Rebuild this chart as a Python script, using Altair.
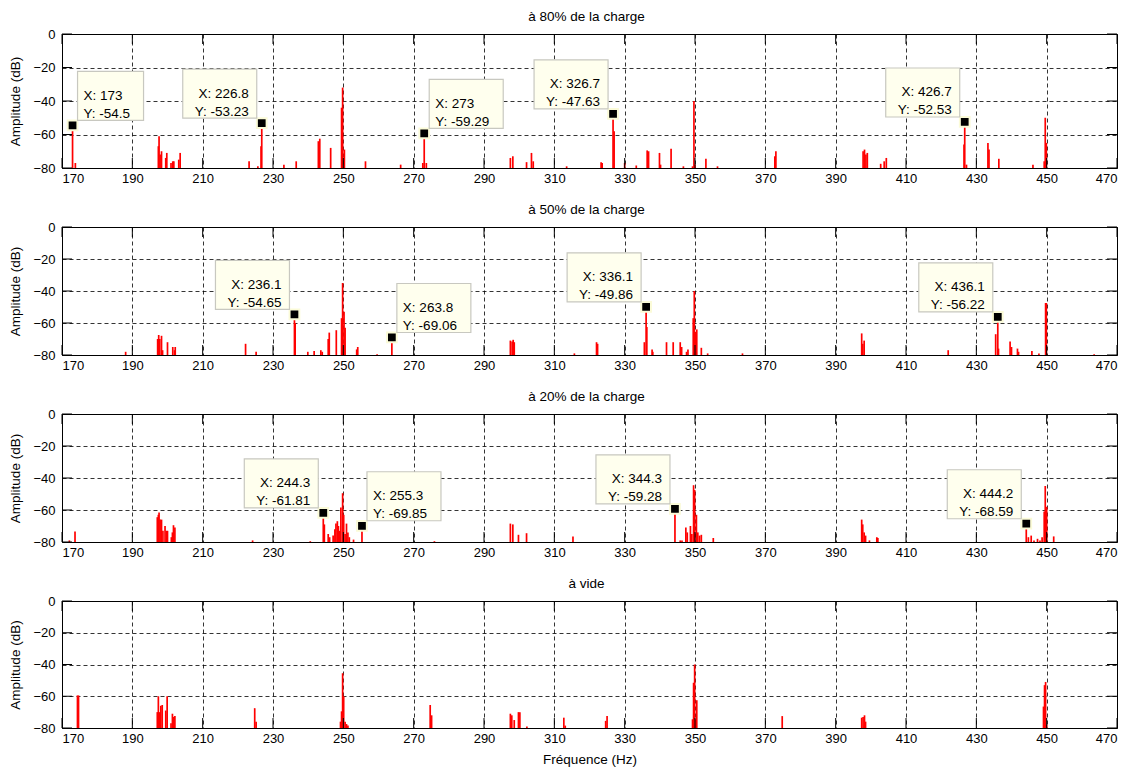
import altair as alt
import pandas as pd

FONT = "Liberation Sans"

# ---------------- data ----------------
panel_titles = ["à 80% de la charge", "à 50% de la charge", "à 20% de la charge", "à vide"]

freq80 = [173, 173.8, 197.4, 197.6, 197.9, 198.3, 199.5, 199.8, 201.0, 201.5, 201.8, 203.2, 203.6,
          223.2, 225.7, 226.6, 226.8, 233.1, 236.6, 242.9, 243.3, 246.4, 249.5, 249.8, 250.3, 256.3,
          266.3, 272.6, 273.0, 273.6, 297.5, 298.2, 302.1, 303.5, 304.0, 313.5, 323.3, 323.6, 326.7,
          327.0, 330.0, 333.3, 336.4, 336.8, 339.9, 340.2, 343.2, 346.7, 349.3, 349.7, 350.0, 353.1,
          356.4, 372.7, 373.0, 397.8, 398.2, 398.6, 399.0, 402.8, 403.8, 404.4, 426.5, 426.7, 427.2,
          433.3, 433.6, 436.4, 446.1, 449.3, 449.6, 449.9]
amp80 = [-54.5, -77, -67, -61, -72, -70, -74, -71, -77, -76, -76, -75, -71,
         -76, -79, -67, -53.23, -78, -76, -64, -62.5, -68, -44, -32, -69, -76,
         -78, -77, -59.29, -77, -74, -73, -76.5, -71, -76, -79, -76.5, -77, -47.63,
         -58, -77, -78.5, -69.5, -70, -71, -78, -68.5, -79, -79, -40, -78, -74.5,
         -79, -73, -70, -70, -69, -72, -71, -77.5, -76, -74, -66, -52.53, -78,
         -65, -69, -74.5, -78, -76, -50, -65]

freq50 = [174, 188.1, 197.2, 197.5, 197.8, 198.3, 198.6, 200.0, 201.5, 202.0, 202.2, 222.2, 225.2,
          236.1, 236.3, 239.9, 241.7, 243.6, 244.0, 245.7, 246.0, 248.0, 249.5, 249.8, 250.2, 250.5,
          253.8, 254.1, 259.6, 263.8, 297.5, 298.0, 298.3, 298.6, 315.7, 322.0, 322.3, 335.6, 336.1,
          336.3, 337.8, 338.0, 341.9, 343.8, 345.8, 346.2, 347.6, 348.0, 349.5, 349.8, 350.2, 350.5,
          351.8, 353.6, 363.5, 397.4, 397.7, 398.1, 422.0, 435.5, 436.1, 436.3, 439.6, 440.0, 441.7,
          442.0, 445.8, 447.8, 449.7, 449.9, 463.5]
amp50 = [-80, -78, -70, -67.5, -70, -68, -77, -72, -75, -77, -75, -73, -78,
         -54.65, -60, -78, -77.5, -77, -78, -70, -66, -64.5, -57, -35, -53, -63,
         -76.5, -75, -79.5, -69.06, -71, -71.5, -70.5, -72, -79, -72, -73, -72, -49.86,
         -62.5, -76.5, -78, -72, -72, -72, -75, -78, -76.5, -57, -40, -65.5, -64,
         -75.5, -79, -79, -66.5, -73, -71, -77, -67, -56.22, -76, -71.5, -75, -76,
         -78, -77.5, -79, -47.5, -47.5, -79.5]

freq20 = [172.1, 173.7, 197.1, 197.4, 197.6, 197.9, 198.3, 198.7, 199.3, 199.7, 200.0, 201.1, 201.4,
          201.7, 202.1, 224.2, 240.6, 244.3, 244.6, 245.7, 246.1, 247.1, 247.6, 247.9, 248.3, 248.6,
          249.0, 249.3, 249.8, 250.1, 250.5, 250.9, 251.3, 251.7, 252.9, 255.3, 275.9, 297.5, 298.2,
          299.8, 302.1, 315.3, 344.3, 345.8, 346.3, 347.4, 347.8, 348.7, 349.1, 349.6, 349.9, 350.4,
          350.8, 351.3, 351.8, 355.2, 397.4, 397.7, 398.1, 398.5, 399.6, 401.7, 402.0, 444.2, 444.8,
          445.6, 446.4, 447.4, 448.1, 448.7, 449.3, 449.6, 450.0, 452.0]
amp20 = [-79, -73.5, -64.5, -63, -61.5, -66, -66, -73, -70, -73, -73, -77, -74,
         -69.5, -71, -79, -79.5, -61.81, -69, -75, -77, -76, -72, -68.5, -67, -70,
         -73, -58.5, -49.5, -63, -75, -68.5, -74, -77, -78.5, -69.85, -79.5, -68.5, -69,
         -75.5, -74.5, -76.5, -59.28, -79, -79, -71, -74, -70, -75, -44.5, -47.5, -63,
         -74, -76, -75.5, -77.5, -66, -69, -74, -76, -79, -77, -77.5, -68.59, -77,
         -76, -79, -78, -79, -77, -61, -45, -58, -76.5]

freq0 = [174.4, 174.7, 197.1, 197.4, 197.8, 198.1, 198.5, 199.5, 199.9, 201.0, 201.4, 201.8, 202.1,
         224.8, 225.2, 249.2, 249.5, 249.8, 250.1, 250.5, 250.9, 251.3, 274.7, 275.1, 297.5, 297.9,
         298.6, 299.8, 300.2, 302.2, 312.7, 313.1, 324.6, 325.0, 349.3, 349.6, 349.9, 350.2, 350.5,
         374.8, 397.4, 397.8, 398.2, 398.5, 449.1, 449.4, 449.7, 450.0]
amp0 = [-59.5, -59.5, -70, -60, -70, -66, -65.5, -69, -60, -77, -71, -73, -72.5,
        -67.5, -76, -76, -69.5, -45.5, -60, -76, -77.5, -78.5, -65.5, -72, -71, -72,
        -75, -70, -70, -79, -73.5, -78.5, -75.5, -72.5, -74.5, -51.5, -40, -74.5, -62.5,
        -72.5, -73.5, -73, -72, -76, -66.5, -53, -51, -78]

# data tips (MATLAB data cursors)
tips_x = [[173, 226.8, 273, 326.7, 426.7], [236.1, 263.8, 336.1, 436.1], [244.3, 255.3, 344.3, 444.2], []]
tips_y = [[-54.5, -53.23, -59.29, -47.63, -52.53], [-54.65, -69.06, -49.86, -56.22],
          [-61.81, -69.85, -59.28, -68.59], []]
tips_side = [["right", "left", "right", "left", "left"], ["left", "right", "left", "left"],
             ["left", "right", "left", "left"], []]

x_ticks = list(range(170, 471, 20))
y_ticks = [0, -20, -40, -60, -80]

freqs = [freq80, freq50, freq20, freq0]
amps = [amp80, amp50, amp20, amp0]

# ---------------- layout ----------------
W = 1055
HEIGHTS = [134, 128, 128, 127]
TICK = 10
BOX_H = 49
GAP = 5


def fmt(v):
    return f"{v:g}"


def make_panel(i):
    H = HEIGHTS[i]
    last = i == 3

    def X(field):
        return alt.X(field, type="quantitative",
                     scale=alt.Scale(domain=[170, 470], nice=False, zero=False),
                     axis=alt.Axis(values=x_ticks, grid=True, labelPadding=4,
                                   titlePadding=7),
                     title="Fréquence (Hz)" if last else None)

    def Y(field):
        return alt.Y(field, type="quantitative",
                     scale=alt.Scale(domain=[-80, 0], nice=False, zero=False),
                     axis=alt.Axis(values=y_ticks, grid=True, labelPadding=7,
                                   titlePadding=10),
                     title="Amplitude (dB)")

    spec = pd.DataFrame({"f": freqs[i], "a": amps[i]})
    spikes = alt.Chart(spec).mark_rule(color="#ff0000", strokeWidth=1.7).encode(
        x=X("f"), y=Y("a"), y2=alt.datum(-80))

    xt = pd.DataFrame({"f": x_ticks})
    yt = pd.DataFrame({"a": y_ticks})
    tick_style = dict(color="black", strokeWidth=1)
    ticks = [
        alt.Chart(yt).mark_rule(**tick_style).encode(y=Y("a"), x=alt.value(0), x2=alt.value(TICK)),
        alt.Chart(yt).mark_rule(**tick_style).encode(y=Y("a"), x=alt.value(W - TICK), x2=alt.value(W)),
        alt.Chart(xt).mark_rule(**tick_style).encode(x=X("f"), y=alt.value(H - TICK), y2=alt.value(H)),
        alt.Chart(xt).mark_rule(**tick_style).encode(x=X("f"), y=alt.value(0), y2=alt.value(TICK)),
    ]

    title_df = pd.DataFrame({"t": [panel_titles[i]]})
    title = alt.Chart(title_df).mark_text(
        font=FONT, fontSize=13.5, color="black", align="center", baseline="alphabetic").encode(
        x=alt.value(W / 2 - 3), y=alt.value(-13), text="t:N")

    layers = [spikes] + ticks + [title]

    if tips_x[i]:
        tdf = pd.DataFrame({
            "tx": tips_x[i], "ty": tips_y[i], "side": tips_side[i],
            "label": [f"X: {fmt(a)}\nY: {fmt(b)}" for a, b in zip(tips_x[i], tips_y[i])],
        })
        tdf["wide"] = [max(len(f"X: {fmt(a)}"), len(f"Y: {fmt(b)}")) > 8
                       for a, b in zip(tips_x[i], tips_y[i])]
        markers = alt.Chart(tdf).mark_square(size=95, color="black", fill="black",
                                             stroke="#fbfbd8", strokeWidth=2, opacity=1).encode(
            x=X("tx"), y=Y("ty"))
        layers.append(markers)
        for side in ["left", "right"]:
            for wide in [True, False]:
                sub = tdf[(tdf["side"] == side) & (tdf["wide"] == wide)]
                if sub.empty:
                    continue
                bw = 74 if wide else 66
                if side == "left":
                    xo, x2o = -GAP - bw, -GAP
                    talign, tdx = "right", -GAP - 8
                else:
                    xo, x2o = GAP, GAP + bw
                    talign, tdx = "left", GAP + 6
                box = alt.Chart(sub).mark_rect(
                    fill="#ffffee", stroke="#c8c8c0", strokeWidth=1.2,
                    xOffset=xo, x2Offset=x2o, yOffset=-GAP - BOX_H, y2Offset=-GAP).encode(
                    x=X("tx"), x2="tx:Q", y=Y("ty"), y2="ty:Q")
                txt = alt.Chart(sub).mark_text(
                    align=talign, baseline="middle", lineBreak="\n", lineHeight=18,
                    font=FONT, fontSize=13.5, color="black",
                    dx=tdx, dy=-GAP - BOX_H / 2).encode(
                    x=X("tx"), y=Y("ty"), text="label:N")
                layers += [box, txt]

    return alt.layer(*layers).properties(width=W, height=H)


chart = alt.vconcat(*[make_panel(i) for i in range(4)], spacing=16).properties(
    padding={"top": 9, "left": 8, "right": 12, "bottom": 2},
    background="white",
).configure_view(stroke="black", strokeWidth=1).configure_axis(
    labelFont=FONT, labelFontSize=13, labelColor="black",
    titleFont=FONT, titleFontSize=13.5, titleColor="black", titleFontWeight="normal",
    ticks=False, domain=False,
    gridColor="black", gridDash=[4, 3], gridWidth=0.8, gridOpacity=1,
)

chart.save("out.html", embed_options={"renderer": "svg", "actions": False})
